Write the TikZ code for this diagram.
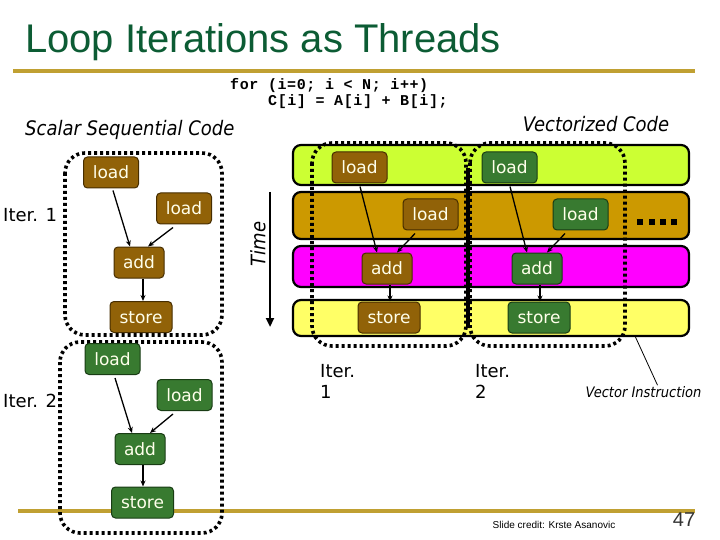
\documentclass[tikz,border=0pt]{standalone}
\usepackage{fontspec}
\setmainfont{DejaVu Sans}
\newfontfamily\tah[FakeStretch=0.9]{DejaVu Sans}
\newfontfamily\arial{Liberation Sans}
\newfontfamily\cour[LetterSpace=4]{Liberation Mono}
\usetikzlibrary{arrows.meta,calc}
\definecolor{titlegreen}{RGB}{12,92,52}
\definecolor{goldline}{RGB}{192,160,50}
\definecolor{bfill}{RGB}{145,98,8}
\definecolor{bdraw}{RGB}{70,45,0}
\definecolor{gfill}{RGB}{56,122,48}
\definecolor{gdraw}{RGB}{25,60,20}
\definecolor{optext}{RGB}{255,255,235}
\definecolor{bandA}{RGB}{204,255,51}
\definecolor{bandB}{RGB}{204,153,0}
\definecolor{bandC}{RGB}{255,0,255}
\definecolor{bandD}{RGB}{255,255,102}
\begin{document}
\begin{tikzpicture}[x=1pt,y=-1pt,
  op/.style={rectangle, rounded corners=4pt, line width=1pt, text=optext,
    font=\fontsize{17}{18}\selectfont, minimum height=31pt, inner sep=0pt,
    text height=12.5pt, text depth=0pt},
  bop/.style={op, fill=bfill, draw=bdraw},
  gop/.style={op, fill=gfill, draw=gdraw},
  loadw/.style={minimum width=55pt},
  addw/.style={minimum width=50pt},
  storew/.style={minimum width=62pt},
  arr/.style={-{Stealth[length=6pt,width=5pt]}, line width=1.3pt},
  dotbox/.style={line width=3.6pt, dash pattern=on 3pt off 3pt, rounded corners=20pt},
  band/.style={draw=black, line width=2.2pt, rounded corners=8pt},
  iterlab/.style={font=\fontsize{18}{20.5}\selectfont, align=left, inner sep=0pt},
  itlab/.style={font=\tah\itshape\fontsize{20}{20}\selectfont, inner sep=0pt},
  codetext/.style={anchor=base west, font=\cour\bfseries\fontsize{15}{15}\selectfont, inner sep=0pt},
  gline/.style={draw=goldline, line width=3.5pt}
]
\useasboundingbox (0,0) rectangle (720,540);

% gold rules
\draw[gline] (13,71) -- (695,71);
\draw[gline] (18,511) -- (695,511);

% title and code
\node[anchor=base west, text=titlegreen, font=\arial\fontsize{40}{40}\selectfont, inner sep=0pt] (title) at (25,53) {Loop Iterations as Threads};
\node[codetext] (code1) at (230,90) {for (i=0; i < N; i++)};
\node[codetext] (code2) at (268,106) {C[i] = A[i] + B[i];};

\node[itlab, anchor=west] (scalarlab) at (25,130) {Scalar Sequential Code};
\node[itlab] (veclab) at (596,124) {Vectorized Code};

% vector bands
\draw[band, fill=bandA] (293,145) rectangle (689,185);
\draw[band, fill=bandB] (293,192) rectangle (689,239);
\draw[band, fill=bandC] (293,246) rectangle (689,287);
\draw[band, fill=bandD] (293,300) rectangle (689,336);

% dotted iteration boxes
\draw[dotbox] (65,153) rectangle (222,335);
\draw[dotbox] (60,342) rectangle (222,533);
\draw[dotbox] (312,143) rectangle (466,346);
\draw[dotbox] (470,143) rectangle (625,346);
\coordinate (sepA) at (468,168);
\coordinate (sepB) at (468,328);
\draw[line width=4.5pt] (sepA) -- (sepB);

% dots
\foreach \xx in {637,648.5,660,671}
  \fill (\xx,219) rectangle ++(6,6);

% Time arrow
\node[itlab, rotate=90] (time) at (258,244) {Time};
\coordinate (tA) at (270,192);
\coordinate (tB) at (270,327);
\draw[-{Triangle[length=9pt,width=8pt]}, line width=2.6pt] (tA) -- (tB);

% scalar iteration 1
\node[bop, loadw] (s1l1) at (111,172.5) {load};
\node[bop, loadw] (s1l2) at (184,208.5) {load};
\node[bop, addw] (s1a) at (139,262.5) {add};
\node[bop, storew] (s1s) at (141,317) {store};
\draw[arr] ([xshift=2pt,yshift=-2pt]s1l1.south) -- ([xshift=-9pt]s1a.north);
\draw[arr] ([xshift=-11pt,yshift=-3pt]s1l2.south) -- ([xshift=9pt]s1a.north);
\draw[arr] ([xshift=4pt]s1a.south) -- ([xshift=2pt]s1s.north);
\node[iterlab, anchor=west] (it1) at (3,215) {Iter. 1};

% scalar iteration 2
\node[gop, loadw] (s2l1) at (112.5,359) {load};
\node[gop, loadw] (s2l2) at (184.5,395) {load};
\node[gop, addw] (s2a) at (140,449) {add};
\node[gop, storew] (s2s) at (142.5,502.5) {store};
\draw[arr] ([xshift=2.5pt,yshift=-3pt]s2l1.south) -- ([xshift=-8pt]s2a.north);
\draw[arr] ([xshift=-11.5pt,yshift=-3pt]s2l2.south) -- ([xshift=10pt]s2a.north);
\draw[arr] ([xshift=3pt]s2a.south) -- ([xshift=0.5pt]s2s.north);
\node[iterlab, anchor=west] (it2) at (3,401) {Iter. 2};

% vector iteration 1
\node[bop, loadw] (v1l1) at (359.5,167.5) {load};
\node[bop, loadw] (v1l2) at (430.5,214.5) {load};
\node[bop, addw] (v1a) at (387,268.5) {add};
\node[bop, storew] (v1s) at (389,317.5) {store};
\draw[arr] ([xshift=0.5pt,yshift=-3pt]v1l1.south) -- ([xshift=-10pt]v1a.north);
\draw[arr] ([xshift=-15.5pt,yshift=-3pt]v1l2.south) -- ([xshift=10pt]v1a.north);
\draw[arr] ([xshift=3pt]v1a.south) -- ([xshift=1pt]v1s.north);

% vector iteration 2
\node[gop, loadw] (v2l1) at (509.5,167.5) {load};
\node[gop, loadw] (v2l2) at (580.5,214.5) {load};
\node[gop, addw] (v2a) at (537,268.5) {add};
\node[gop, storew] (v2s) at (539,317.5) {store};
\draw[arr] ([xshift=0.5pt,yshift=-3pt]v2l1.south) -- ([xshift=-10pt]v2a.north);
\draw[arr] ([xshift=-15.5pt,yshift=-3pt]v2l2.south) -- ([xshift=10pt]v2a.north);
\draw[arr] ([xshift=3pt]v2a.south) -- ([xshift=1pt]v2s.north);

% iteration labels under vector
\node[iterlab, anchor=base west] (vit1) at (320,398) {Iter.\\1};
\node[iterlab, anchor=base west] (vit2) at (475,398) {Iter.\\2};

% vector instruction callout
\node[font=\tah\itshape\fontsize{14.5}{15}\selectfont, inner sep=0pt] (vi) at (643.5,392) {Vector Instruction};
\coordinate (vtip) at (635,336);
\draw[line width=0.8pt] (vtip) -- ($(vi.north)+(14,-1)$);

% footer
\node[font=\arial\fontsize{10}{10}\selectfont, inner sep=0pt] (credit) at (554,525) {Slide credit: Krste Asanovic};
\node[font=\arial\fontsize{20}{20}\selectfont, text=black!80, inner sep=0pt] (pagenum) at (684,520) {47};
\end{tikzpicture}
\end{document}
